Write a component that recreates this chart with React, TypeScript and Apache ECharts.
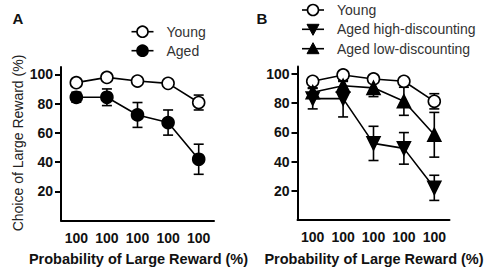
import React, { useEffect, useRef } from "react";
import * as echarts from "echarts";

const xLabels = ["100", "100", "100", "100", "100"];
const yTicks = [20, 40, 60, 80, 100];

// Panel A
const youngA = [94.3, 97.9, 95.4, 93.8, 80.7];
const youngAErr = [1.5, 1.2, 1.2, 1.2, 5.1];
const agedA = [84.3, 84.3, 72.2, 67.0, 41.9];
const agedAErr = [3.4, 5.7, 8.5, 8.6, 10.3];

// Panel B
const youngB = [94.9, 99.2, 96.5, 94.9, 81.2];
const youngBErr = [1.5, 1.2, 1.5, 1.5, 5.2];
const highB = [83.0, 83.0, 52.4, 49.0, 22.0];
const highBErr = [7.0, 12.5, 11.7, 10.8, 8.6];
const lowB = [87.4, 91.8, 90.4, 81.2, 58.3];
const lowBErr = [3.0, 3.0, 6.0, 9.6, 15.3];

const legendA = ["Young", "Aged"];
const legendB = ["Young", "Aged high-discounting", "Aged low-discounting"];

const FONT = "'Liberation Sans', Arial, Helvetica, sans-serif";

function errData(mean: number[], err: number[]) {
  return mean.map((m, i) => [i, m - err[i], m + err[i]]);
}

function errSeries(name: string, gridIdx: number, mean: number[], err: number[]) {
  return {
    type: "custom",
    name: name + " err",
    xAxisIndex: gridIdx,
    yAxisIndex: gridIdx,
    z: 1,
    silent: true,
    data: errData(mean, err),
    renderItem: (params: any, api: any) => {
      const x = api.value(0);
      const lo = api.coord([x, api.value(1)]);
      const hi = api.coord([x, api.value(2)]);
      const hw = 5;
      const st = { stroke: "#000", lineWidth: 1.6 };
      return {
        type: "group",
        children: [
          { type: "line", shape: { x1: lo[0], y1: lo[1], x2: hi[0], y2: hi[1] }, style: st },
          { type: "line", shape: { x1: lo[0] - hw, y1: lo[1], x2: lo[0] + hw, y2: lo[1] }, style: st },
          { type: "line", shape: { x1: hi[0] - hw, y1: hi[1], x2: hi[0] + hw, y2: hi[1] }, style: st },
        ],
      };
    },
  };
}

function lineSeries(
  name: string,
  gridIdx: number,
  data: number[],
  symbol: string,
  fill: string,
  size: number,
  rotate = 0
) {
  return {
    type: "line",
    name,
    xAxisIndex: gridIdx,
    yAxisIndex: gridIdx,
    z: 3,
    data,
    symbol,
    symbolSize: size,
    symbolRotate: rotate,
    showAllSymbol: true,
    lineStyle: { color: "#000", width: 1.6 },
    itemStyle: { color: fill, borderColor: "#000", borderWidth: 1.6 },
    emphasis: { disabled: true },
  };
}

function xAxis(gridIndex: number) {
  return {
    type: "category",
    gridIndex,
    data: xLabels,
    boundaryGap: true,
    axisLine: { lineStyle: { color: "#000", width: 2 } },
    axisTick: { alignWithLabel: true, length: 6, lineStyle: { color: "#000", width: 2 } },
    axisLabel: {
      margin: 10,
      color: "#111",
      fontSize: 14,
      fontWeight: "bold",
      fontFamily: FONT,
    },
    splitLine: { show: false },
  };
}

function yAxis(gridIndex: number) {
  return {
    type: "value",
    gridIndex,
    min: 0,
    max: 105,
    interval: 20,
    axisLine: { show: true, lineStyle: { color: "#000", width: 2 } },
    axisTick: {
      show: true,
      length: 6,
      customValues: yTicks,
      lineStyle: { color: "#000", width: 2 },
    },
    axisLabel: {
      margin: 8,
      color: "#111",
      fontSize: 14,
      fontWeight: "bold",
      fontFamily: FONT,
      customValues: yTicks,
    },
    splitLine: { show: false },
  };
}

type Marker = "open" | "filled" | "down" | "up";

function legendItem(label: string, marker: Marker, lx: number, cy: number) {
  const cx = lx + 11;
  const children: any[] = [
    { type: "line", shape: { x1: lx, y1: cy, x2: lx + 22, y2: cy }, style: { stroke: "#000", lineWidth: 1.6 } },
  ];
  const s = 11;
  if (marker === "open" || marker === "filled") {
    children.push({
      type: "circle",
      shape: { cx, cy, r: s / 2 },
      style: { fill: marker === "open" ? "#fff" : "#000", stroke: "#000", lineWidth: 1.6 },
    });
  } else {
    const h = 6;
    const pts =
      marker === "up"
        ? [[cx, cy - h], [cx + h, cy + h - 1], [cx - h, cy + h - 1]]
        : [[cx - h, cy - h + 1], [cx + h, cy - h + 1], [cx, cy + h]];
    children.push({ type: "polygon", shape: { points: pts }, style: { fill: "#000", stroke: "#000", lineWidth: 1 } });
  }
  children.push({
    type: "text",
    x: lx + 35,
    y: cy,
    style: {
      text: label,
      fontSize: 14,
      fontFamily: FONT,
      fill: "#333",
      align: "left",
      verticalAlign: "middle",
    },
  });
  return { type: "group", children };
}

export default function App() {
  const ref = useRef<HTMLDivElement>(null);

  useEffect(() => {
    if (!ref.current) return;
    const chart = echarts.init(ref.current, null, { renderer: "svg" });
    const titleStyle = {
      fontSize: 15,
      fontWeight: "bold",
      fontFamily: FONT,
      fill: "#111",
      align: "center",
      verticalAlign: "middle",
    };
    const xTitleStyle = {
      text: "Probability of Large Reward (%)",
      fontSize: 14.5,
      fontWeight: "bold",
      fontFamily: FONT,
      fill: "#111",
      align: "center",
      verticalAlign: "middle",
    };
    chart.setOption({
      animation: false,
      backgroundColor: "#fff",
      textStyle: { fontFamily: FONT },
      grid: [
        { left: 61, top: 67, width: 153, height: 153.5 },
        { left: 297.5, top: 66.5, width: 152, height: 153.5 },
      ],
      xAxis: [xAxis(0), xAxis(1)],
      yAxis: [yAxis(0), yAxis(1)],
      graphic: [
        { type: "text", x: 18, y: 18, style: { ...titleStyle, text: "A" } },
        { type: "text", x: 262, y: 18, style: { ...titleStyle, text: "B" } },
        {
          type: "text",
          x: 17.5,
          y: 143,
          rotation: Math.PI / 2,
          style: {
            text: "Choice of Large Reward (%)",
            fontSize: 14,
            fontFamily: FONT,
            fill: "#222",
            align: "center",
            verticalAlign: "middle",
          },
        },
        { type: "text", x: 138.5, y: 259, style: { ...xTitleStyle } },
        { type: "text", x: 374, y: 259, style: { ...xTitleStyle } },
        legendItem(legendA[0], "open", 131.5, 31.7),
        legendItem(legendA[1], "filled", 131.5, 50.7),
        legendItem(legendB[0], "open", 302, 10),
        legendItem(legendB[1], "down", 302, 29.3),
        legendItem(legendB[2], "up", 302, 48.7),
      ],
      series: [
        errSeries("Young", 0, youngA, youngAErr),
        errSeries("Aged", 0, agedA, agedAErr),
        lineSeries(legendA[0], 0, youngA, "circle", "#fff", 12),
        lineSeries(legendA[1], 0, agedA, "circle", "#000", 12),
        errSeries("Young B", 1, youngB, youngBErr),
        errSeries("High B", 1, highB, highBErr),
        errSeries("Low B", 1, lowB, lowBErr),
        lineSeries(legendB[0], 1, youngB, "circle", "#fff", 12),
        lineSeries(legendB[1], 1, highB, "triangle", "#000", 13, 180),
        lineSeries(legendB[2], 1, lowB, "triangle", "#000", 13),
      ],
    });
    return () => chart.dispose();
  }, []);

  return (
    <div
      ref={ref}
      style={{ position: "fixed", left: 0, top: 0, width: 490, height: 271, background: "#fff" }}
    />
  );
}
